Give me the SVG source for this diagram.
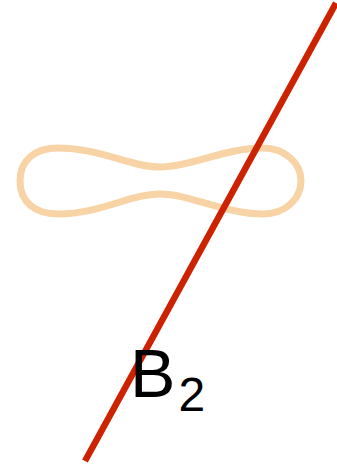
<svg xmlns="http://www.w3.org/2000/svg" width="337" height="466" viewBox="0 0 337 466">
<style>
.curve{fill:none;stroke:#f8d3a5;stroke-width:7}
.line{stroke:#cc2200;stroke-width:6.5;fill:none}
.lbl{font-family:"Liberation Sans",Arial,sans-serif;fill:#000}
</style>
<rect width="337" height="466" fill="#fff"/>
<g id="curve">
<path class="curve" d="M 20,181 C 20,160 35,148 58,148 C 100,148 130,167 160,167 C 190,167 225,148 263,148 C 285,148 301,163 301,181 C 301,199 285,214 263,214 C 225,214 190,194 160,194 C 130,194 100,214 58,214 C 35,214 20,202 20,181 Z"/>
</g>
<g id="line">
<line class="line" x1="85" y1="461" x2="336" y2="3"/>
</g>
<g id="label">
<text class="lbl" x="130" y="397" font-size="68">B</text>
<text class="lbl" x="178.5" y="411" font-size="48">2</text>
</g>
</svg>
